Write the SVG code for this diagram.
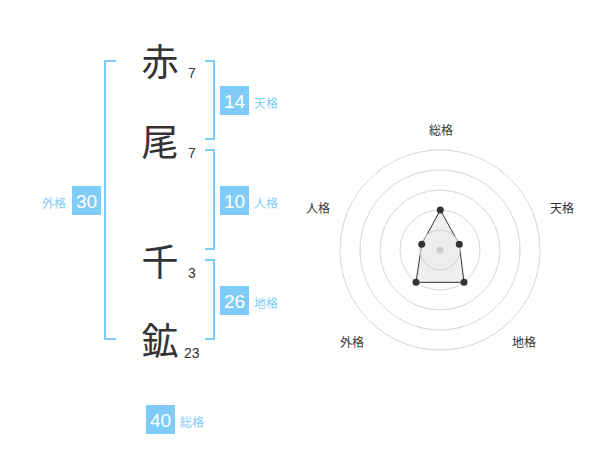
<svg xmlns="http://www.w3.org/2000/svg" width="600" height="470" viewBox="0 0 600 470">
<style>
.ch{font-family:"Noto Sans CJK JP","Noto Sans",sans-serif;font-size:37px;fill:#333;text-anchor:middle}
.st{font-family:"Liberation Sans",Arial,sans-serif;font-size:14px;fill:#333}
.bx{fill:#80ccf8}
.bn{font-family:"Liberation Sans",Arial,sans-serif;font-size:19px;fill:#fff;text-anchor:middle}
.lb{font-family:"Noto Sans CJK JP",sans-serif;font-size:12px;fill:#80ccf8}
.br{fill:none;stroke:#80ccf8;stroke-width:2}
.ring{fill:none;stroke:#d4d4d4;stroke-width:1}
.rl{font-family:"Noto Sans CJK JP",sans-serif;font-size:12px;fill:#333;text-anchor:middle}
.pt{fill:#333}
</style>
<g id="brackets">
<path class="br" d="M116 61H105V339H116"/>
<path class="br" d="M205 61H214V139H205"/>
<path class="br" d="M205 150H214V249H205"/>
<path class="br" d="M205 260H214V339H205"/>
</g>
<g id="char1"><text class="ch" x="160" y="76">赤</text><text class="st" x="188" y="78">7</text></g>
<g id="char2"><text class="ch" x="160" y="156">尾</text><text class="st" x="188" y="158">7</text></g>
<g id="char3"><text class="ch" x="160" y="276">千</text><text class="st" x="188" y="278">3</text></g>
<g id="char4"><text class="ch" x="160" y="355">鉱</text><text class="st" x="184" y="358">23</text></g>
<g id="tenkaku"><rect class="bx" x="220" y="86" width="29" height="29"/><text class="bn" x="234.5" y="107.5">14</text><text class="lb" x="254" y="108">天格</text></g>
<g id="jinkaku"><rect class="bx" x="220" y="186" width="29" height="29"/><text class="bn" x="234.5" y="207.5">10</text><text class="lb" x="254" y="208">人格</text></g>
<g id="chikaku"><rect class="bx" x="220" y="286" width="29" height="29"/><text class="bn" x="234.5" y="307.5">26</text><text class="lb" x="254" y="308">地格</text></g>
<g id="gaikaku"><rect class="bx" x="72" y="186" width="29" height="29"/><text class="bn" x="86.5" y="207.5">30</text><text class="lb" x="66" y="208" text-anchor="end">外格</text></g>
<g id="soukaku"><rect class="bx" x="146" y="405" width="29" height="29"/><text class="bn" x="160.5" y="426.5">40</text><text class="lb" x="180" y="427">総格</text></g>
<g id="radar">
<circle class="ring" cx="440" cy="250" r="100"/>
<circle class="ring" cx="440" cy="250" r="80"/>
<circle class="ring" cx="440" cy="250" r="60"/>
<circle class="ring" cx="440" cy="250" r="40"/>
<polygon points="440.3,210 459.3,244.3 464,282.3 416,282.3 421.7,244.3" fill="#efefef" stroke="#333" stroke-width="1"/>
<circle cx="440" cy="250" r="20" fill="#ebebeb" fill-opacity="0.5" stroke="#d0d0d0"/>
<circle cx="440" cy="250" r="3.5" fill="#ccc"/>
<circle class="pt" cx="440.3" cy="210" r="3.5"/>
<circle class="pt" cx="459.3" cy="244.3" r="3.5"/>
<circle class="pt" cx="464" cy="282.3" r="3.5"/>
<circle class="pt" cx="416" cy="282.3" r="3.5"/>
<circle class="pt" cx="421.7" cy="244.3" r="3.5"/>
<text class="rl" x="441" y="135">総格</text>
<text class="rl" x="562" y="213">天格</text>
<text class="rl" x="318" y="213">人格</text>
<text class="rl" x="352" y="347">外格</text>
<text class="rl" x="524" y="347">地格</text>
</g>
</svg>
